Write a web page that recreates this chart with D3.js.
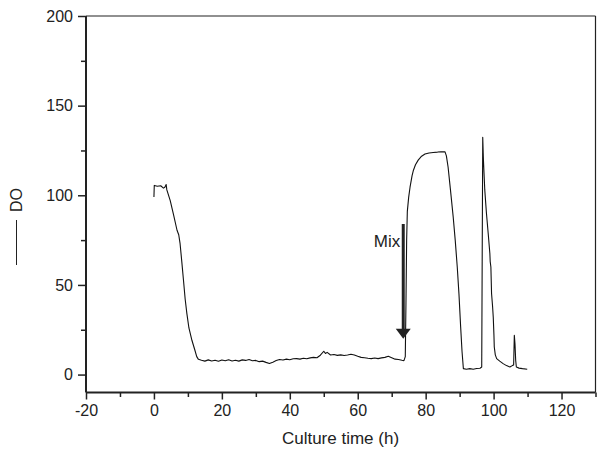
<!DOCTYPE html>
<html><head><meta charset="utf-8">
<script src="https://cdn.jsdelivr.net/npm/d3@7"></script>
<style>
html,body{margin:0;padding:0;background:#fff;}
svg{display:block;}
text{font-family:"Liberation Sans",Arial,Helvetica,sans-serif;fill:#222;}
</style></head>
<body>
<script>
const times = [0,0.1,1,2,2.8,3.2,3.6,3.8,4.8,5.8,6.8,7.3,7.7,8.2,8.7,9.2,9.7,10.3,11.2,12,12.6,13.1,14,15,16,17,18,19,20,21,22,23,24,25,26,27,28,29,30,31,32,33,34,35,36,37,38,39,40,41,42,43,44,45,46,47,48,49,50,50.5,51,52,53,54,55,56,57,58,59,60,61,62,63,64,65,66,67,68,69,70,71,72,73,73.6,74.0,74.2,74.4,74.6,75,75.4,76,76.4,77,77.8,78.8,79.8,81,82.2,83.5,84.5,85.7,86.1,86.6,87.3,88.1,88.7,89.3,89.8,90.3,90.7,91.1,92,93,94,95,96,96.5,96.8,97,97.4,97.9,98.4,98.9,99.0,99.2,99.4,99.7,99.9,100.1,100.2,100.5,100.9,101.8,102.8,103.8,104.8,105.5,105.9,106.1,106.3,106.5,106.7,107.5,108.5,109.9];
const doValues = [99,105.5,105,105.3,104,104.5,106,103,97,89,80.5,78,73,63,52.6,42,34,26,19,14,10,8.5,8,7.5,8.2,7.6,8,7.4,8.1,7.7,8.3,7.6,8,7.5,8.2,7.9,8.4,7.7,7.9,7.2,7.5,6.8,6.2,6.9,7.8,8.4,8.1,8.6,8.3,8.8,8.9,8.6,9.1,8.8,9.3,9.6,9.4,10.8,13,11.8,12.4,10.9,11.2,10.7,11,10.6,10.9,11.3,10.9,10.2,9.6,9.4,9.1,8.9,9.2,8.9,9.3,9.6,10.2,9.4,8.6,8.4,8,7.8,10,40,75,91,99,104.5,111,114,117,119.6,121.8,123,123.6,123.9,124.1,124.3,124.2,122,115.8,103,88,75,60,45,26.6,13,3.3,3,3.3,3,3.4,3.5,4.2,132.3,120,103,89.8,79,67.5,63,60,45.2,38,32,22,15.4,11,8.9,7.5,6.1,5,4.2,5,5.4,21.9,17,8,4.2,3.6,3.3,3];
const xMajorTicks = [-20,0,20,40,60,80,100,120];
const xMinorTicks = [-10,10,30,50,70,90,110,130];
const yMajorTicks = [0,50,100,150,200];
const yMinorTicks = [25,75,125,175];
const arrowTime = 73.4, arrowTop = 84, arrowBottom = 20;
const xLabel = "Culture time (h)", yLabel = "DO", mixLabel = "Mix";

const W = 597, H = 449;
const svg = d3.select("body").append("svg").attr("width", W).attr("height", H);
const x = d3.scaleLinear().domain([-20,130]).range([86, 595.5]);
const y = d3.scaleLinear().domain([-10,200]).range([392.5, 16]);

// frame top & right
svg.append("line").attr("x1",x(-20)).attr("x2",x(130)).attr("y1",y(200)).attr("y2",y(200)).attr("stroke","#222").attr("stroke-width",1.2);
svg.append("line").attr("x1",x(130)).attr("x2",x(130)).attr("y1",y(200)).attr("y2",y(-10)).attr("stroke","#222").attr("stroke-width",1.2);

const fs = 16;
const fmt = d => String(d);
// x axis
const xAx = svg.append("g").attr("transform",`translate(0,${y(-10)})`)
  .call(d3.axisBottom(x).tickValues(xMajorTicks).tickSize(7).tickPadding(5).tickFormat(fmt));
svg.append("g").attr("transform",`translate(0,${y(-10)})`)
  .call(d3.axisBottom(x).tickValues(xMinorTicks).tickSize(4.5).tickFormat(""))
  .call(g=>g.select(".domain").remove());
// y axis
const yAx = svg.append("g").attr("transform",`translate(${x(-20)},0)`)
  .call(d3.axisLeft(y).tickValues(yMajorTicks).tickSize(8).tickPadding(5).tickFormat(fmt));
svg.append("g").attr("transform",`translate(${x(-20)},0)`)
  .call(d3.axisLeft(y).tickValues(yMinorTicks).tickSize(5).tickFormat(""))
  .call(g=>g.select(".domain").remove());
svg.selectAll(".domain").attr("stroke","#222").attr("stroke-width",2);
svg.selectAll(".tick line").attr("stroke","#222").attr("stroke-width",1.5);
svg.selectAll(".tick text").attr("font-size",fs).attr("font-family","Liberation Sans, Arial, sans-serif").attr("fill","#222");
xAx.selectAll(".domain").attr("d",`M${x(-20)},0H${x(130)}`);
yAx.selectAll(".domain").attr("d",`M0,${y(200)}V${y(-10)}`);

// data line
const pts = times.map((t,i)=>[t,doValues[i]]);
svg.append("path").datum(pts)
  .attr("d", d3.line().x(d=>x(d[0])).y(d=>y(d[1])))
  .attr("fill","none").attr("stroke","#111").attr("stroke-width",1.1).attr("stroke-linejoin","round");

// arrow
const ax = x(arrowTime);
svg.append("line").attr("x1",ax).attr("x2",ax).attr("y1",y(arrowTop)).attr("y2",y(arrowBottom)-8)
  .attr("stroke","#222").attr("stroke-width",3);
svg.append("path").attr("d",`M${ax-7.5},${y(arrowBottom)-10}L${ax+7.5},${y(arrowBottom)-10}L${ax},${y(arrowBottom)}Z`).attr("fill","#222");
svg.append("text").attr("x",ax-3).attr("y",y(arrowTop)+23).attr("text-anchor","end").attr("font-size",17).text(mixLabel);

// axis labels
svg.append("text").attr("x",340.5).attr("y",443.5).attr("text-anchor","middle").attr("font-size",17).text(xLabel);
svg.append("text").attr("transform","translate(21.5,200) rotate(-90)").attr("text-anchor","middle").attr("font-size",16).text(yLabel);
svg.append("line").attr("x1",16.5).attr("x2",16.5).attr("y1",220).attr("y2",265).attr("stroke","#222").attr("stroke-width",1);
</script>
</body></html>
